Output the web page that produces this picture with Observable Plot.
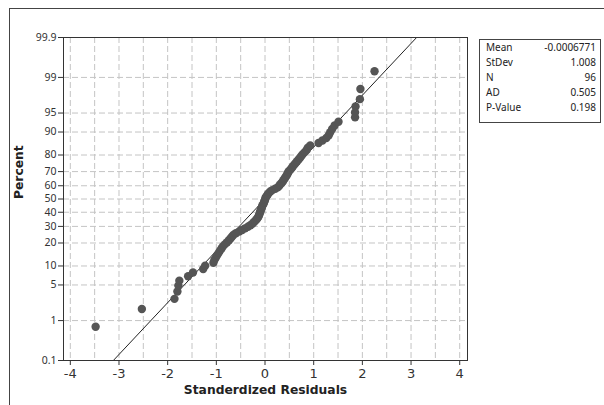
<!DOCTYPE html>
<html>
<head>
<meta charset="utf-8">
<script src="https://cdn.jsdelivr.net/npm/d3@7"></script>
<script src="https://cdn.jsdelivr.net/npm/@observablehq/plot@0.6"></script>
<style>
  body { margin: 0; background: #fff; }
  #wrap { position: relative; width: 604px; height: 405px; overflow: hidden; }
  #border { position: absolute; left: 9px; top: 8px; width: 700px; height: 500px;
            border-left: 1px solid #444; border-top: 1px solid #444; }
  #chart { position: absolute; left: 0; top: 0; }
  #stats { position: absolute; left: 479px; top: 39px; width: 122px; height: 84px;
           border: 1px solid #444; box-sizing: border-box; background: #fff;
           font: 10px "Noto Sans", sans-serif; color: #222; }
  #stats table { border-collapse: collapse; margin: 0 0 0 6px; width: 110px; }
  #stats td { padding: 0; height: 15px; line-height: 15px; }
  #stats td.v { text-align: right; }
</style>
</head>
<body>
<div id="wrap">
  <div id="border"></div>
  <div id="chart"></div>
  <div id="stats"></div>
</div>
<script>
// Standardized residuals, sorted ascending (n = 96)
const residuals = [
  -3.48, -2.53, -1.86, -1.80, -1.78, -1.76, -1.58, -1.48, -1.27, -1.23,
  -1.06, -1.04, -1.01, -0.98, -0.95, -0.92, -0.89, -0.86, -0.82, -0.78,
  -0.74, -0.71, -0.68, -0.65, -0.60, -0.53, -0.47, -0.41, -0.35, -0.30,
  -0.26, -0.23, -0.20, -0.17, -0.15, -0.13, -0.12, -0.11, -0.10, -0.09,
  -0.08, -0.07, -0.06, -0.05, -0.03, -0.02, -0.01, 0.00, 0.01, 0.02,
  0.04, 0.06, 0.08, 0.11, 0.15, 0.21, 0.26, 0.29, 0.31, 0.34,
  0.36, 0.38, 0.40, 0.42, 0.44, 0.46, 0.47, 0.49, 0.52, 0.55,
  0.57, 0.60, 0.63, 0.66, 0.69, 0.72, 0.75, 0.78, 0.82, 0.86,
  0.88, 0.93, 1.10, 1.18, 1.26, 1.31, 1.34, 1.38, 1.43, 1.51,
  1.85, 1.85, 1.86, 1.95, 1.96, 2.25
];

// Summary statistics shown in the table
const statNames = ["Mean", "StDev", "N", "AD", "P-Value"];
const statValues = ["-0.0006771", "1.008", "96", "0.505", "0.198"];
const fitMean = -0.0006771;
const fitStDev = 1.008;

// Axis ticks
const xTicks = [-4, -3, -2, -1, 0, 1, 2, 3, 4];
const xTickLabels = ["-4", "-3", "-2", "-1", "0", "1", "2", "3", "4"];
const xGrid = [-4, -3.5, -3, -2.5, -2, -1.5, -1, -0.5, 0, 0.5, 1, 1.5, 2, 2.5, 3, 3.5, 4];
const percentTicks = [0.1, 1, 5, 10, 20, 30, 40, 50, 60, 70, 80, 90, 95, 99, 99.9];
const percentLabels = ["0.1", "1", "5", "10", "20", "30", "40", "50", "60", "70", "80", "90", "95", "99", "99.9"];
const percentGrid = [1, 5, 10, 20, 30, 40, 50, 60, 70, 80, 90, 95, 99];

// Inverse of the standard normal CDF (Acklam's rational approximation)
function qnorm(p) {
  const a = [-3.969683028665376e+01, 2.209460984245205e+02, -2.759285104469687e+02,
             1.383577518672690e+02, -3.066479806614716e+01, 2.506628277459239e+00];
  const b = [-5.447609879822406e+01, 1.615858368580409e+02, -1.556989798598866e+02,
             6.680131188771972e+01, -1.328068155288572e+01];
  const c = [-7.784894002430293e-03, -3.223964580411365e-01, -2.400758277161838e+00,
             -2.549671010115884e+00, 4.374664141464968e+00, 2.938163982698783e+00];
  const d = [7.784695709041462e-03, 3.224671290700398e-01, 2.445134137142996e+00,
             3.754408661907416e+00];
  const pl = 0.02425, ph = 1 - pl;
  let q, r;
  if (p < pl) {
    q = Math.sqrt(-2 * Math.log(p));
    return (((((c[0]*q+c[1])*q+c[2])*q+c[3])*q+c[4])*q+c[5]) /
           ((((d[0]*q+d[1])*q+d[2])*q+d[3])*q+1);
  }
  if (p <= ph) {
    q = p - 0.5; r = q * q;
    return (((((a[0]*r+a[1])*r+a[2])*r+a[3])*r+a[4])*r+a[5])*q /
           (((((b[0]*r+b[1])*r+b[2])*r+b[3])*r+b[4])*r+1);
  }
  q = Math.sqrt(-2 * Math.log(1 - p));
  return -(((((c[0]*q+c[1])*q+c[2])*q+c[3])*q+c[4])*q+c[5]) /
          ((((d[0]*q+d[1])*q+d[2])*q+d[3])*q+1);
}

// Median-rank plotting positions on the normal probability scale
const n = residuals.length;
const points = residuals.map((v, i) => ({ x: v, z: qnorm((i + 1 - 0.3) / (n + 0.4)) }));

const zMax = qnorm(0.999);
const fitLine = [-zMax, zMax].map(z => ({ x: fitMean + fitStDev * z, z }));

const chart = Plot.plot({
  width: 604,
  height: 405,
  marginLeft: 63,
  marginRight: 137,
  marginTop: 37,
  marginBottom: 45,
  style: { fontFamily: "'DejaVu Sans', sans-serif", color: "#333", background: "transparent" },
  x: { domain: [-4.14, 4.16] },
  y: { domain: [-zMax, zMax] },
  marks: [
    Plot.ruleX(xGrid, { stroke: "#c4c4c4", strokeDasharray: "6,3" }),
    Plot.ruleY(percentGrid.map(p => qnorm(p / 100)), { stroke: "#c4c4c4", strokeDasharray: "6,3" }),
    Plot.line(fitLine, { x: "x", y: "z", stroke: "#222", strokeWidth: 1, clip: true }),
    Plot.dot(points, { x: "x", y: "z", r: 4.2, fill: "#555", stroke: "none" }),
    Plot.frame({ stroke: "#333" }),
    Plot.axisX({ ticks: xTicks, tickFormat: (d, i) => xTickLabels[i], tickSize: 5,
                 tickPadding: 3, fontSize: 13, label: null }),
    Plot.axisY({ ticks: percentTicks.map(p => qnorm(p / 100)),
                 tickFormat: (d, i) => percentLabels[i], tickSize: 5, tickPadding: 2,
                 fontSize: 10.5, fontFamily: "'Noto Sans', sans-serif", label: null }),
    Plot.text(["Standerdized Residuals"], { frameAnchor: "bottom", dy: 33, fontSize: 12.3,
                 fontWeight: "bold", fill: "#222" }),
    Plot.text(["Percent"], { frameAnchor: "left", dx: -44, rotate: -90, fontSize: 12.3,
                 fontWeight: "bold", fill: "#222" })
  ]
});
document.getElementById("chart").appendChild(chart);

// Summary statistics table
const table = document.createElement("table");
statNames.forEach((name, i) => {
  const tr = document.createElement("tr");
  const a = document.createElement("td"); a.textContent = name;
  const b = document.createElement("td"); b.textContent = statValues[i]; b.className = "v";
  tr.append(a, b);
  table.appendChild(tr);
});
document.getElementById("stats").appendChild(table);
</script>
</body>
</html>
